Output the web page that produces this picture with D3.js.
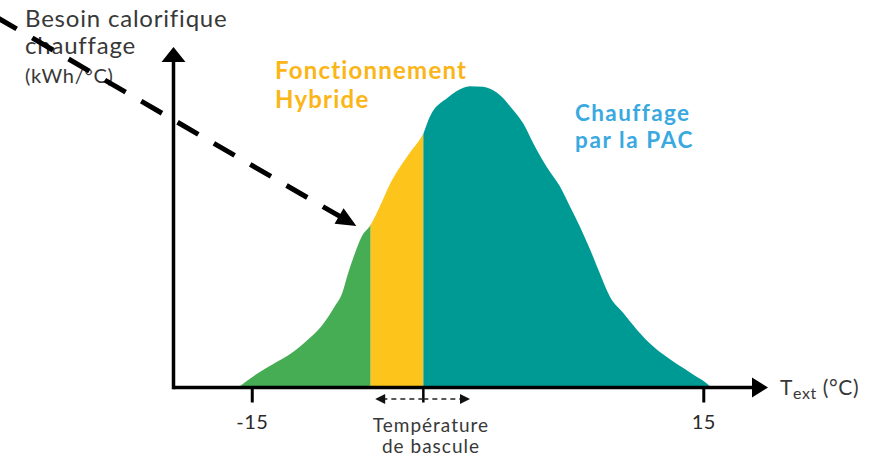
<!DOCTYPE html>
<html><head><meta charset="utf-8">
<script src="https://cdn.jsdelivr.net/npm/d3@7"></script>
<style>body{margin:0;background:#fff}svg{display:block}</style>
</head><body>
<svg id="c" width="889" height="458"></svg>
<script>
// ---- data ----
const temps = [-15.9,-14.6,-13.3,-12.4,-11.3,-10.4,-9.5,-9.0,-8.6,-8.15,-7.7,-7.1,-6.5,-5.8,-5.15,-4.5,-3.75,-3.6,-3.27,-2.93,-2.49,-2.05,-1.38,-0.5,0.37,1.3,2.38,3.05,3.71,4.6,5.49,6.15,6.82,7.48,8.15,8.8,9.7,10.6,11.7,13.0,14.4,15.35,15.5];
const needs = [0,4.7,8.6,11.3,15.8,20.2,26.8,31.2,37.9,44.5,50.0,54.0,60.0,67.7,73.2,77.9,83.0,84.3,88.7,92.0,94.3,95.9,98.4,100,99.8,97.8,92.0,87.5,81.0,73.2,66.6,60.0,53.2,45.8,37.6,30.1,24.6,19.1,13.5,8.6,4.1,0.8,0];
const tickValues = [-15, 15];
const tickLabels = ["-15", "15"];
const hybridStart = -7.1;   // début fonctionnement hybride
const bascule = -3.6;       // température de bascule
const arrowFrom = [-32, 123];
const arrowTo = [-8.05, 53.6];

const svg = d3.select("#c");
const x = d3.scaleLinear().domain([-20.2, 19.3]).range([173.5, 768]);
const y = d3.scaleLinear().domain([0, 113]).range([387.5, 47]);

const pts = temps.map((t,i)=>[t, needs[i]]);
const area = d3.area().x(d=>x(d[0])).y0(y(0)).y1(d=>y(d[1])).curve(d3.curveMonotoneX);

const defs = svg.append("defs");
const zones = [
  {id:"zg", x0:-30, x1:hybridStart, color:"#46ad54"},
  {id:"zy", x0:hybridStart, x1:bascule, color:"#fdc41c"},
  {id:"zt", x0:bascule, x1:30, color:"#009a94"}
];
zones.forEach(z=>{
  defs.append("clipPath").attr("id", z.id).append("rect")
    .attr("x", x(z.x0)).attr("y", 0).attr("width", x(z.x1)-x(z.x0)).attr("height", 458);
  svg.append("path").datum(pts).attr("d", area).attr("fill", z.color)
    .attr("clip-path", `url(#${z.id})`);
});

// axes
const ax = svg.append("g");
ax.append("line").attr("x1", x(-20.2)).attr("x2", x(19.3)-12).attr("y1", y(0)).attr("y2", y(0))
  .attr("stroke","#000").attr("stroke-width",3.5);
ax.append("path").attr("d", `M${x(19.3)},${y(0)} L${x(19.3)-16},${y(0)-10} L${x(19.3)-16},${y(0)+10} Z`).attr("fill","#000");
ax.append("line").attr("x1", x(-20.2)).attr("x2", x(-20.2)).attr("y1", y(0)+1.75).attr("y2", y(113)+12)
  .attr("stroke","#000").attr("stroke-width",3.5);
ax.append("path").attr("d", `M${x(-20.2)},${y(113)} L${x(-20.2)-12},${y(113)+15} L${x(-20.2)+12},${y(113)+15} Z`).attr("fill","#000");

const xAxis = d3.axisBottom(x).tickValues(tickValues).tickFormat((d,i)=>tickLabels[i]).tickSize(15).tickPadding(12);
const gx = svg.append("g").attr("transform", `translate(0,${y(0)})`).call(xAxis);
gx.select(".domain").remove();
gx.selectAll(".tick line").attr("stroke","#000").attr("stroke-width",3);
gx.selectAll(".tick text").attr("font-family","Lato, sans-serif").attr("font-size",20).attr("letter-spacing",0.5).attr("fill","#2a2a2a");

// bascule tick & dashed arrows
svg.append("line").attr("x1", x(bascule)).attr("x2", x(bascule)).attr("y1", y(0)).attr("y2", y(0)+15)
  .attr("stroke","#000").attr("stroke-width",2.5);
const ay = y(0)+11.5;
[[bascule, bascule-3.2],[bascule, bascule+3.1]].forEach(([a,b])=>{
  const dir = Math.sign(b-a);
  svg.append("line").attr("x1", x(a)).attr("x2", x(b)-dir*8).attr("y1", ay).attr("y2", ay)
    .attr("stroke","#222").attr("stroke-width",1.6).attr("stroke-dasharray","5 4");
  svg.append("path").attr("d", `M${x(b)},${ay} L${x(b)-dir*10},${ay-5} L${x(b)-dir*10},${ay+5} Z`).attr("fill","#111");
});

// big dashed arrow
const p0 = [x(arrowFrom[0]), y(arrowFrom[1])], p1 = [x(arrowTo[0]), y(arrowTo[1])];
const dx = p1[0]-p0[0], dy = p1[1]-p0[1], L = Math.hypot(dx,dy), ux=dx/L, uy=dy/L;
const hl = 20, hw = 9;
const base = [p1[0]-ux*hl, p1[1]-uy*hl];

// texts
const gray = "#383838";
const t1 = svg.append("text").attr("font-family","Lato, sans-serif").attr("fill",gray).attr("font-size",24).attr("letter-spacing",0.8);
t1.append("tspan").attr("x",25).attr("y",27).text("Besoin calorifique");
t1.append("tspan").attr("x",25).attr("y",54).text("chauffage");
svg.append("text").attr("x",25).attr("y",83).attr("font-family","Lato, sans-serif").attr("fill",gray).attr("font-size",20).attr("letter-spacing",0.7).text("(kWh/°C)");

svg.append("line").attr("x1",p0[0]).attr("y1",p0[1]).attr("x2",base[0]+ux*2).attr("y2",base[1]+uy*2)
  .attr("stroke","#000").attr("stroke-width",5).attr("stroke-dasharray","24 18");
svg.append("path").attr("d", `M${p1[0]},${p1[1]} L${base[0]-uy*hw},${base[1]+ux*hw} L${base[0]+uy*hw},${base[1]-ux*hw} Z`).attr("fill","#000");

const t2 = svg.append("text").attr("font-family","Lato, sans-serif").attr("font-weight",700).attr("fill","#fbb516").attr("font-size",24).attr("letter-spacing",1.2);
t2.append("tspan").attr("x",275).attr("y",79).text("Fonctionnement");
t2.append("tspan").attr("x",275).attr("y",108).text("Hybride");

const t3a = svg.append("text").attr("font-family","Lato, sans-serif").attr("font-weight",700).attr("fill","#39a9df").attr("font-size",22.5).attr("letter-spacing",1.4)
  .attr("x",575).attr("y",121).text("Chauffage");
const t3b = svg.append("text").attr("font-family","Lato, sans-serif").attr("font-weight",700).attr("fill","#39a9df").attr("font-size",22.5).attr("letter-spacing",1.6)
  .attr("x",575).attr("y",148).text("par la PAC");

const t4 = svg.append("text").attr("font-family","Lato, sans-serif").attr("fill",gray).attr("font-size",19).attr("letter-spacing",1).attr("text-anchor","middle");
t4.append("tspan").attr("x",431).attr("y",432).text("Température");
t4.append("tspan").attr("x",431).attr("y",453).text("de bascule");

const t5 = svg.append("text").attr("x",780).attr("y",395).attr("font-family","Lato, sans-serif").attr("fill",gray).attr("font-size",21).attr("letter-spacing",0.6);
t5.append("tspan").text("T");
t5.append("tspan").attr("font-size",16).attr("dy",4).text("ext");
t5.append("tspan").attr("dy",-4).text(" (°C)");
</script>
</body></html>
